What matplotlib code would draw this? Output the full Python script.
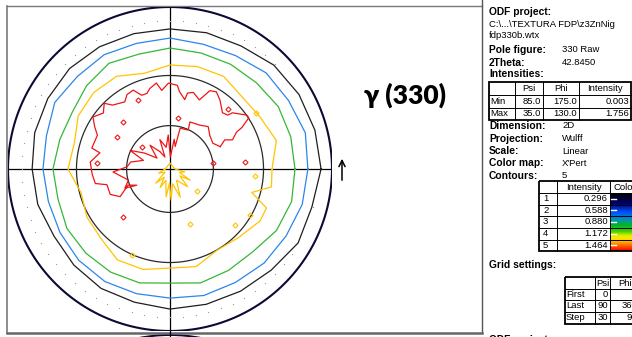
import numpy as np
import matplotlib
matplotlib.use('Agg')
import matplotlib.pyplot as plt
from matplotlib.patches import Rectangle, Circle
from matplotlib.colors import LinearSegmentedColormap

plt.rcParams['font.family'] = ['Liberation Sans', 'DejaVu Sans']

# ---- pole figure data (psi, phi in degrees) ----
levels = [0.296, 0.588, 0.880, 1.172, 1.464]
level_colors = ['#1e1e1e', '#2a86ea', '#35b735', '#ffc400', '#f01515']

ring_phi = [0, 15, 30, 45, 60, 75, 90, 105, 120, 135, 150, 165,
            180, 195, 210, 225, 240, 255, 270, 285, 300, 315, 330, 345]
black_psi = [86.0, 85.6, 85.2, 84.4, 82.5, 82.1, 81.7, 81.7, 82.1, 82.5, 82.1, 81.7,
             80.8, 80.4, 79.2, 80.0, 80.8, 80.8, 81.7, 81.7, 82.1, 82.9, 84.8, 84.4]
blue_psi = [80.8, 81.7, 80.4, 80.0, 77.9, 77.1, 77.9, 77.5, 78.3, 77.9, 78.8, 76.6,
            76.2, 75.7, 76.2, 77.1, 77.5, 77.1, 77.1, 77.9, 77.9, 78.8, 79.2, 80.4]
green_psi = [75.3, 75.3, 75.3, 74.0, 73.5, 73.1, 73.5, 72.6, 74.0, 72.1, 69.8, 70.3,
             71.7, 71.2, 72.6, 72.6, 72.6, 72.1, 70.3, 72.1, 71.7, 71.7, 74.4, 75.7]
yellow_phi = [0, 15, 30, 45, 60, 75, 90, 105, 120, 135, 150, 165, 180,
              195, 210, 225, 240, 255, 270, 285, 300, 315, 330, 338, 344, 350]
yellow_psi = [64.4, 68.4, 65.4, 64.4, 66.9, 66.4, 65.4, 62.9, 66.9, 67.4, 66.4, 62.9, 64.4,
              59.2, 61.3, 62.3, 65.9, 65.4, 62.9, 63.9, 60.2, 61.8, 65.4, 65.4, 55.4, 64.9]

red_phi = [24, 28, 25, 29, 30, 33, 35, 42, 43, 47, 54, 59, 63, 67, 73, 77, 78, 83, 85,
           91, 96, 99, 104, 107, 111, 115, 120, 124, 132, 135, 140, 146, 151, 155, 165,
           167, 175, 184, 191, 194, 203, 209, 201, 206,
           203, 195, 183, 177, 170, 162, 155, 148, 140, 130, 120, 113, 109, 100, 93,
           88, 82, 77, 76, 65, 67, 56, 48, 40, 31]
red_psi = [37.5, 41.9, 46.1, 50.3, 54.3, 60.2, 60.2, 54.8, 52.0, 50.8, 55.4, 58.1, 57.0,
           49.7, 52.6, 51.4, 47.3, 51.4, 54.8, 55.9, 52.0, 56.5, 54.3, 52.0, 52.0, 56.5,
           55.9, 53.1, 55.9, 59.7, 56.5, 59.7, 55.9, 52.6, 53.1, 47.9, 52.6, 51.4, 50.3,
           43.7, 43.7, 38.8, 31.0, 25.7,
           33.7, 29.7, 38.8, 29.7, 27.7, 19.6, 30.4, 21.0, 12.0, 21.7, 14.1, 9.2, 21.7,
           15.5, 23.7, 8.5, 21.0, 16.2, 29.1, 29.7, 35.0, 36.2, 38.8, 35.6, 34.3]

core_phi = [180, 200, 212, 225, 235, 242, 250, 262, 268, 272, 280, 290,
            300, 315, 325, 331, 340, 349, 360, 380, 450, 520]
core_psi = [3.5, 8.5, 4.2, 14.1, 7.1, 14.8, 8.5, 19.6, 9.9, 21.7, 10.6, 21.0,
            9.2, 17.5, 8.5, 16.2, 7.1, 10.6, 3.5, 2.8, 4.2, 2.8]

red_spot_phi = [115, 46, 81, 142, 175, 226, 8, 5, 135, 149]
red_spot_psi = [50.3, 54.8, 35.6, 25.0, 48.5, 45.0, 29.7, 49.7, 44.3, 41.9]
yellow_spot_phi = [33, 355, 321, 290, 319, 330, 246]
yellow_spot_psi = [64.9, 55.4, 24.4, 40.0, 55.9, 59.2, 60.2]

grid_psi = [30, 60]
dot_psi = 85
dot_phi = np.arange(0, 360, 5)

# ---- info panel ----
info_head = ['Pole figure:', '2Theta:']
info_head_val = ['330 Raw', '42.8450']
int_rows = ['Min', 'Max']
int_psi = [85.0, 35.0]
int_phi = [175.0, 130.0]
int_val = [0.003, 1.756]
info_labels = ['Dimension:', 'Projection:', 'Scale:', 'Color map:', 'Contours:']
info_values = ['2D', 'Wulff', 'Linear', "X'Pert", '5']
grid_rows = ['First', 'Last', 'Step']
grid_psi_vals = [0, 90, 30]
grid_phi_vals = [0, 360, 90]


def wulff(psi, phi):
    rho = np.tan(np.radians(np.asarray(psi, float)) / 2)
    a = np.radians(np.asarray(phi, float))
    return rho * np.cos(a), rho * np.sin(a)


def closed(phi, psi):
    return list(psi) + [psi[0]], list(phi) + [phi[0]]


fig = plt.figure(figsize=(6.32, 3.37), dpi=100)

ov = fig.add_axes([0, 0, 1, 1])
ov.patch.set_visible(False)
ov.axis('off')

pf = fig.add_axes([8 / 632, 6 / 337, 324 / 632, 324 / 337])
pf.patch.set_visible(False)
pf.axis('off')
pf.set_xlim(-1, 1)
pf.set_ylim(-1, 1)

# frame lines
pf.plot([-1, 1], [0, 0], color='black', lw=0.9)
pf.plot([0, 0], [1, -1.05], color='black', lw=0.9, clip_on=False)
t = np.linspace(0, 2 * np.pi, 400)
for g in grid_psi:
    x, y = wulff(np.full_like(t, g), np.degrees(t))
    pf.plot(x, y, color='#2a2a2a', lw=0.9)
pf.plot(np.cos(t), np.sin(t), color='#0a0a35', lw=1.5)

# measurement dots outside the first level
black_at_dots = np.interp(dot_phi, ring_phi + [360], black_psi + [black_psi[0]])
keep = black_at_dots < 84.5
dx, dy = wulff(np.full(keep.sum(), dot_psi), dot_phi[keep])
pf.plot(dx, dy, ls='none', marker='s', ms=0.8, color='#9a9a9a', mec='none')

# contour rings
for psi_list, col in [(black_psi, level_colors[0]), (blue_psi, level_colors[1]),
                      (green_psi, level_colors[2])]:
    pf.plot(*wulff(*closed(ring_phi, psi_list)), color=col, lw=0.9)
pf.plot(*wulff(*closed(yellow_phi, yellow_psi)), color=level_colors[3], lw=0.9)
pf.plot(*wulff(*closed(core_phi, core_psi)), color=level_colors[3], lw=0.9)
pf.plot(*wulff(*closed(red_phi, red_psi)), color=level_colors[4], lw=0.9)

x, y = wulff(red_spot_psi, red_spot_phi)
pf.plot(x, y, ls='none', marker='D', ms=2.6, mfc='none', mec=level_colors[4], mew=0.8)
x, y = wulff(yellow_spot_psi, yellow_spot_phi)
pf.plot(x, y, ls='none', marker='D', ms=2.6, mfc='none', mec=level_colors[3], mew=0.8)

# panel borders
bc = '#7a7a7a'
ov.plot([7, 482], [5.5, 5.5], color=bc, lw=1.0)
ov.plot([7, 7], [5.5, 333], color=bc, lw=1.2)
ov.plot([482, 482], [0, 333], color='#555555', lw=1.0)
ov.plot([7, 482], [333, 333], color='#666666', lw=1.8)
ov.add_patch(Circle((170, 497), 162, fill=False, ec='#0a0a35', lw=1.4))

ov.text(405, 104, 'γ (330)', fontsize=19, fontweight='heavy',
        family=['Lato', 'Noto Sans', 'DejaVu Sans'], ha='center', va='baseline')
ov.annotate('', xy=(342, 156), xytext=(342, 183),
            arrowprops=dict(arrowstyle='->', lw=1.1, color='black', mutation_scale=11))

# ---- right info panel ----
fs = 6.8
bx = 489
vx = 562


def txt(x, y, s, bold=False, ha='left'):
    ov.text(x, y, s, fontsize=fs + (0.6 if bold else 0), fontweight='bold' if bold else 'normal',
            ha=ha, va='center', color='black')


def table(xs, ys):
    for xv in xs[1:-1]:
        ov.plot([xv, xv], [ys[0], ys[-1]], color='black', lw=0.7)
    for yv in ys[1:-1]:
        ov.plot([xs[0], xs[-1]], [yv, yv], color='black', lw=0.7)
    ov.add_patch(Rectangle((xs[0], ys[0]), xs[-1] - xs[0], ys[-1] - ys[0],
                           fill=False, ec='black', lw=1.3))


txt(bx, 12, 'ODF project:', bold=True)
txt(bx, 24.5, 'C:\\...\\TEXTURA FDP\\z3ZnNig')
txt(bx, 36, 'fdp330b.wtx')
for i, (lab, val) in enumerate(zip(info_head, info_head_val)):
    txt(bx, 50 + 12.5 * i, lab, bold=True)
    txt(vx, 50 + 12.5 * i, val)
txt(bx, 74, 'Intensities:', bold=True)

t1x = [489, 515, 543, 579, 631]
t1y = [81.5, 95, 107.5, 119.5]
table(t1x, t1y)
for j, h in enumerate(['Psi', 'Phi', 'Intensity']):
    txt((t1x[j + 1] + t1x[j + 2]) / 2, 88.5, h, ha='center')
for i, lab in enumerate(int_rows):
    yc = (t1y[i + 1] + t1y[i + 2]) / 2
    txt(490, yc, lab)
    txt(t1x[2] - 2, yc, f'{int_psi[i]:.1f}', ha='right')
    txt(t1x[3] - 2, yc, f'{int_phi[i]:.1f}', ha='right')
    txt(t1x[4] - 2, yc, f'{int_val[i]:.3f}', ha='right')

for i, (lab, val) in enumerate(zip(info_labels, info_values)):
    txt(bx, 126 + 12.5 * i, lab, bold=True)
    txt(vx, 126 + 12.5 * i, val)

# contour table with colour scale
t2x = [539, 557, 610, 642]
t2y = [181, 193, 204.5, 216, 227.5, 239.5, 251]
xpert = LinearSegmentedColormap.from_list('xpert', [
    (0.0, '#000000'), (0.18, '#00006a'), (0.33, '#0050ff'), (0.45, '#0090c0'),
    (0.55, '#00b030'), (0.66, '#40d000'), (0.74, '#e8f000'), (0.8, '#ffe000'),
    (0.9, '#ff7000'), (1.0, '#ff0000')])
ov.imshow(np.linspace(0, 1, 200).reshape(-1, 1), cmap=xpert, aspect='auto',
          extent=[t2x[2], t2x[3], t2y[-1], t2y[1]], origin='upper', zorder=1)
table(t2x, t2y)
txt((t2x[1] + t2x[2]) / 2, 187, 'Intensity', ha='center')
txt(613, 187, 'Color')
for i, lv in enumerate(levels):
    yc = (t2y[i + 1] + t2y[i + 2]) / 2
    txt(543, yc, str(i + 1))
    txt(t2x[2] - 2, yc, f'{lv:.3f}', ha='right')
    ov.plot([611, 616], [yc, yc], color='white', lw=1.0, zorder=3)

txt(bx, 265, 'Grid settings:', bold=True)
t3x = [565, 595, 610, 640]
t3y = [277, 288.5, 300, 312, 323.5]
table(t3x, t3y)
txt((t3x[1] + t3x[2]) / 2, 283, 'Psi', ha='center')
txt((t3x[2] + t3x[3]) / 2, 283, 'Phi', ha='center')
for i, lab in enumerate(grid_rows):
    yc = (t3y[i + 1] + t3y[i + 2]) / 2
    txt(566, yc, lab)
    txt(t3x[2] - 2, yc, str(grid_psi_vals[i]), ha='right')
    txt(t3x[3] - 3, yc, str(grid_phi_vals[i]), ha='right')

ov.text(bx, 335, 'ODF project:', fontsize=fs + 0.6, fontweight='bold', va='top')

ov.set_xlim(0, 632)
ov.set_ylim(337, 0)

fig.savefig('out.png', dpi=100)
